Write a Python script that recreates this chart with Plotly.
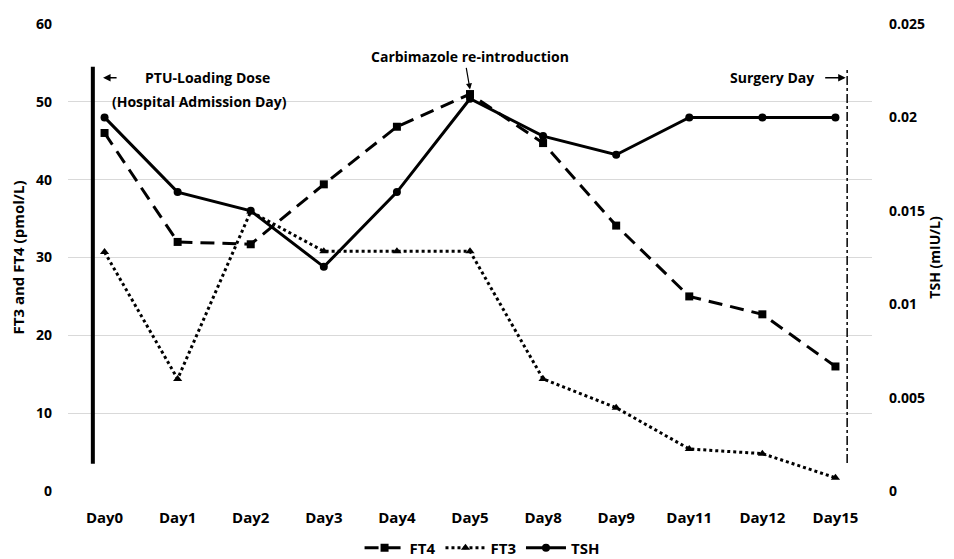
import plotly.graph_objects as go

days = ["Day0", "Day1", "Day2", "Day3", "Day4", "Day5", "Day8", "Day9", "Day11", "Day12", "Day15"]
ft4 = [46.0, 32.0, 31.7, 39.4, 46.8, 51.0, 44.7, 34.1, 25.0, 22.7, 16.0]
ft3 = [30.7, 14.4, 35.9, 30.8, 30.8, 30.8, 14.4, 10.7, 5.4, 4.8, 1.7]
tsh = [0.020, 0.016, 0.015, 0.012, 0.016, 0.021, 0.019, 0.018, 0.020, 0.020, 0.020]
left_ticks = [0, 10, 20, 30, 40, 50, 60]
right_ticks = [0, 0.005, 0.01, 0.015, 0.02, 0.025]
right_labels = ["0", "0.005", "0.01", "0.015", "0.02", "0.025"]

FONT = "Open Sans"

fig = go.Figure()
fig.add_trace(go.Scatter(x=days, y=ft4, name="<b>FT4</b>", mode="lines+markers",
                         line=dict(color="black", width=3, dash="14px,8px"),
                         marker=dict(symbol="square", size=8, color="black")))
fig.add_trace(go.Scatter(x=days, y=ft3, name="<b>FT3</b>", mode="lines+markers",
                         line=dict(color="black", width=3, dash="dot"),
                         marker=dict(symbol="triangle-up", size=8, color="black")))
fig.add_trace(go.Scatter(x=days, y=tsh, name="<b>TSH</b>", mode="lines+markers", yaxis="y2",
                         line=dict(color="black", width=3),
                         marker=dict(symbol="circle", size=8, color="black")))

# vertical event lines
fig.add_shape(type="line", xref="x", yref="y", x0=-0.16, x1=-0.16, y0=3.5, y1=54.5,
              line=dict(color="black", width=4))
fig.add_shape(type="line", xref="x", yref="y", x0=10.16, x1=10.16, y0=3.6, y1=54.2,
              line=dict(color="black", width=1.5, dash="dashdot"))

tf = dict(family=FONT, size=14, color="black")
fig.add_annotation(x=-0.02, y=53.1, xref="x", yref="y", ax=15, ay=0, text="",
                   showarrow=True, arrowhead=2, arrowsize=1, arrowwidth=1.5, arrowcolor="black")
fig.add_annotation(x=1.41, y=53.1, xref="x", yref="y", text="<b>PTU-Loading Dose</b>",
                   showarrow=False, font=tf)
fig.add_annotation(x=1.3, y=50.0, xref="x", yref="y", text="<b>(Hospital Admission Day)</b>",
                   showarrow=False, font=tf)
fig.add_annotation(x=5.0, y=55.8, xref="x", yref="y", text="<b>Carbimazole re-introduction</b>",
                   showarrow=False, font=tf)
fig.add_annotation(x=5.0, y=51.6, xref="x", yref="y", ax=-4, ay=-23, text="",
                   showarrow=True, arrowhead=2, arrowsize=1, arrowwidth=1.2, arrowcolor="black")
fig.add_annotation(x=9.13, y=53.1, xref="x", yref="y", text="<b>Surgery Day</b>",
                   showarrow=False, font=tf)
fig.add_annotation(x=10.14, y=53.1, xref="x", yref="y", ax=-22, ay=0, text="",
                   showarrow=True, arrowhead=2, arrowsize=1, arrowwidth=1.5, arrowcolor="black")

fig.update_layout(
    width=946, height=551,
    margin=dict(l=60, r=82, t=16, b=68, autoexpand=False),
    paper_bgcolor="white", plot_bgcolor="white",
    font=dict(family=FONT, size=14, color="black"),
    showlegend=True,
    legend=dict(orientation="h", x=0.515, xanchor="center", y=-0.122, yanchor="middle",
                font=dict(family=FONT, size=15, color="black"), itemwidth=40),
    xaxis=dict(type="category", range=[-0.5, 10.5], showgrid=False, zeroline=False,
               showline=False, ticks="", tickfont=dict(family=FONT, size=15), automargin=False,
               ticklabelstandoff=16,
               tickvals=days, ticktext=["<b>%s</b>" % d for d in days]),
    yaxis=dict(range=[0, 60], showgrid=True, gridcolor="#d9d9d9", gridwidth=1,
               zeroline=False, showline=False, ticks="", ticklabelstandoff=15, automargin=False,
               tickfont=dict(family=FONT, size=14),
               tickvals=left_ticks, ticktext=["<b>%d</b>" % v for v in left_ticks],
               title=dict(text="<b>FT3 and FT4 (pmol/L)</b>", font=dict(family=FONT, size=15), standoff=14)),
    yaxis2=dict(range=[0, 0.025], overlaying="y", side="right", showgrid=False, zeroline=False,
                showline=False, ticks="", ticklabelstandoff=16, automargin=False,
                tickfont=dict(family=FONT, size=14),
                tickvals=right_ticks, ticktext=["<b>%s</b>" % t for t in right_labels],
                title=dict(text="<b>TSH (mIU/L)</b>", font=dict(family=FONT, size=14), standoff=3)),
)

fig.write_html("out.html")
